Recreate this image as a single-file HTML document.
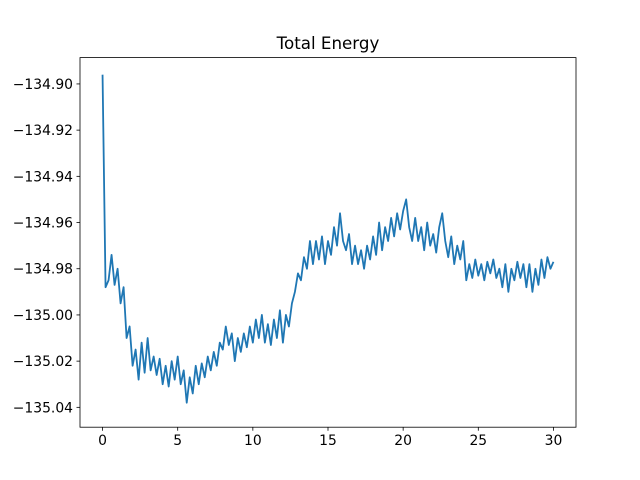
<!DOCTYPE html>
<html><head><meta charset="utf-8"><style>
body{margin:0;background:#fff;}
svg{display:block;font-family:"DejaVu Sans","Liberation Sans",sans-serif;}
</style></head><body>
<svg id="chart" width="640" height="480" viewBox="0 0 640 480" xmlns="http://www.w3.org/2000/svg">
<rect width="640" height="480" fill="#fff"/>
<text x="328" y="49" font-size="16.7" text-anchor="middle" fill="#000">Total Energy</text>
<g id="ticks"></g>
<path id="line" fill="none" stroke="#1f77b4" stroke-width="1.8" stroke-linejoin="round"/>
<rect x="80" y="57.6" width="496" height="369.6" fill="none" stroke="#000" stroke-width="0.8"/>
</svg>
<script>
const timeStep = 0.2;
const energies = [-134.896,-134.988,-134.985,-134.974,-134.987,-134.980,-134.995,-134.988,-135.010,-135.005,
-135.022,-135.015,-135.028,-135.012,-135.025,-135.010,-135.024,-135.018,-135.026,-135.019,
-135.030,-135.022,-135.031,-135.020,-135.028,-135.018,-135.030,-135.024,-135.038,-135.027,
-135.034,-135.022,-135.030,-135.021,-135.027,-135.018,-135.024,-135.016,-135.022,-135.012,
-135.015,-135.005,-135.013,-135.008,-135.020,-135.010,-135.016,-135.008,-135.014,-135.005,
-135.012,-135.002,-135.010,-135.000,-135.012,-135.004,-135.013,-135.002,-135.010,-134.998,
-135.012,-135.000,-135.005,-134.995,-134.990,-134.982,-134.985,-134.975,-134.980,-134.968,
-134.978,-134.968,-134.976,-134.966,-134.978,-134.968,-134.974,-134.962,-134.970,-134.956,
-134.968,-134.972,-134.965,-134.978,-134.970,-134.978,-134.972,-134.980,-134.970,-134.976,
-134.966,-134.974,-134.960,-134.972,-134.962,-134.968,-134.958,-134.966,-134.956,-134.963,
-134.955,-134.950,-134.962,-134.968,-134.958,-134.968,-134.962,-134.972,-134.960,-134.970,
-134.965,-134.973,-134.962,-134.956,-134.968,-134.975,-134.966,-134.978,-134.970,-134.976,
-134.968,-134.985,-134.978,-134.984,-134.976,-134.983,-134.978,-134.985,-134.977,-134.982,
-134.976,-134.984,-134.980,-134.988,-134.978,-134.990,-134.980,-134.985,-134.977,-134.984,
-134.978,-134.988,-134.978,-134.990,-134.980,-134.987,-134.976,-134.984,-134.975,-134.980,-134.977];
const xTicks = [0,5,10,15,20,25,30];
const yTicks = [-134.90,-134.92,-134.94,-134.96,-134.98,-135.00,-135.02,-135.04];
const yTickLabels = ["\u2212134.90","\u2212134.92","\u2212134.94","\u2212134.96","\u2212134.98","\u2212135.00","\u2212135.02","\u2212135.04"];

const X0=80,X1=576,Y0=427.2,Y1=57.6;
const xMin=-1.5,xMax=31.5,yMin=-135.0486,yMax=-134.8886;
const sx=v=>X0+(v-xMin)/(xMax-xMin)*(X1-X0);
const sy=v=>Y0-(v-yMin)/(yMax-yMin)*(Y0-Y1);
const NS="http://www.w3.org/2000/svg";
let d="";
energies.forEach((e,i)=>{d+=(i?"L":"M")+sx(i*timeStep).toFixed(2)+","+sy(e).toFixed(2);});
document.getElementById("line").setAttribute("d",d);
const g=document.getElementById("ticks");
xTicks.forEach(t=>{
  const l=document.createElementNS(NS,"line");
  
  
  l.setAttribute("x1",sx(t));l.setAttribute("x2",sx(t));l.setAttribute("y1",Y0);l.setAttribute("y2",Y0+3.5);
  l.setAttribute("stroke","#000");l.setAttribute("stroke-width","0.8");g.appendChild(l);
  const tx=document.createElementNS(NS,"text");
  
  
  tx.setAttribute("x",sx(t));tx.setAttribute("y",Y0+18);tx.setAttribute("font-size","13.9");
  tx.setAttribute("text-anchor","middle");tx.textContent=String(t);g.appendChild(tx);
});
yTicks.forEach((t,i)=>{
  const l=document.createElementNS(NS,"line");
  
  
  l.setAttribute("x1",X0-3.5);l.setAttribute("x2",X0);l.setAttribute("y1",sy(t));l.setAttribute("y2",sy(t));
  l.setAttribute("stroke","#000");l.setAttribute("stroke-width","0.8");g.appendChild(l);
  const tx=document.createElementNS(NS,"text");
  
  
  tx.setAttribute("x",X0-7);tx.setAttribute("y",sy(t)+5);tx.setAttribute("font-size","13.9");
  tx.setAttribute("text-anchor","end");tx.textContent=yTickLabels[i];g.appendChild(tx);
});
</script>
</body></html>
